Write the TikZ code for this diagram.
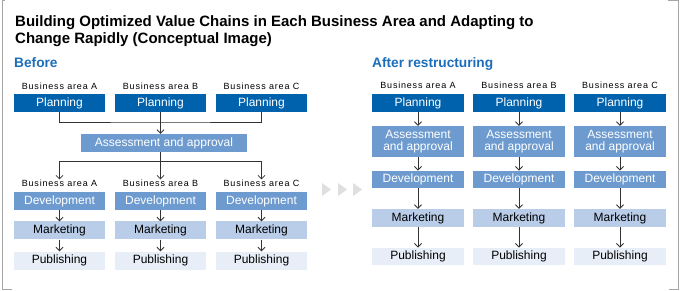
\documentclass[tikz,border=0pt]{standalone}
\usepackage{fontspec}
\setmainfont{Liberation Sans}
\newfontfamily\areafont[LetterSpace=9]{Liberation Sans}
\usetikzlibrary{arrows.meta}
\definecolor{planblue}{HTML}{0062AC}
\definecolor{midblue}{HTML}{6E9BCF}
\definecolor{lightblue}{HTML}{B9CDE9}
\definecolor{paleblue}{HTML}{E8EEF8}
\definecolor{headblue}{HTML}{1C6EBA}
\definecolor{linegray}{HTML}{333333}

\begin{document}
\begin{tikzpicture}[x=1pt, y=-1pt,
    box/.style={rectangle, minimum width=91pt, minimum height=18pt, inner sep=0pt, align=center, font=\fontsize{12}{12.4}\selectfont},
    plan/.style={box, fill=planblue, text=white},
    assess/.style={box, fill=midblue, text=white},
    dev/.style={box, fill=midblue, text=white},
    mkt/.style={box, fill=lightblue, text=black},
    pub/.style={box, fill=paleblue, text=black},
    area/.style={font=\areafont\fontsize{9}{10}\selectfont, inner sep=0pt},
    heading/.style={anchor=base west, inner sep=0pt, text=headblue, font=\bfseries\fontsize{13.7}{15}\selectfont},
    link/.style={draw=linegray, line width=0.8pt},
    arrow/.style={link, -{Straight Barb[length=3.5pt,width=7pt]}},
    frame/.style={draw=gray!70, line width=1pt}
  ]
    \useasboundingbox (0,0) rectangle (680,291);

    % Frame
    \draw[frame] (12,289) -| (2.5,1) -- (5,1);
    \draw[frame] (668,1) -| (678.5,289) -- (669,289);

    % Title and headings
    \node[anchor=north west, inner sep=0pt, align=left, font=\bfseries\fontsize{15}{17}\selectfont] (title) at (15,15)
      {Building Optimized Value Chains in Each Business Area and Adapting to\\Change Rapidly (Conceptual Image)};
    \node[heading] (before) at (14,68) {Before};
    \node[heading] (after) at (372,68) {After restructuring};

    % Before
    \foreach \c/\x in {A/59.5, B/160.5, C/261.5} {
      \node[area] (bla\c) at (\x,86) {Business area \c};
      \node[plan] (bpl\c) at (\x,103) {Planning};
      \node[area] (blb\c) at (\x,183) {Business area \c};
      \node[dev] (bdev\c) at (\x,201) {Development};
      \node[mkt] (bmkt\c) at (\x,230.5) {Marketing};
      \node[pub] (bpub\c) at (\x,260.5) {Publishing};
      \draw[arrow] (bdev\c) -- (bmkt\c);
      \draw[arrow] (bmkt\c) -- (bpub\c);
    }
    \node[assess, minimum width=166pt] (bass) at (164,143) {Assessment and approval};
    \coordinate (j1) at (160.5,122);
    \coordinate (j2) at (160.5,161);
    \draw[link] (bplA.south) |- (j1) -| (bplC.south);
    \draw[arrow] (bplB.south) -- (bass.north -| j1);
    \draw[link] (bass.south -| j2) -- (j2);
    \draw[arrow] (j2) -| (blbA.north);
    \draw[arrow] (j2) -- (blbB.north);
    \draw[arrow] (j2) -| (blbC.north);

    % Arrows between stages
    \foreach \t in {322,338,353}
      \fill[gray!25] (\t,183) -- (\t+9,189.5) -- (\t,196) -- cycle;

    % After restructuring
    \foreach \c/\x in {A/418, B/519, C/620} {
      \node[area] (ala\c) at (\x,85) {Business area \c};
      \node[plan, minimum width=92pt] (apl\c) at (\x,103) {Planning};
      \node[assess, minimum width=92pt, minimum height=31pt] (aass\c) at (\x,141.5) {Assessment\\and approval};
      \node[dev, minimum width=92pt, minimum height=17.5pt] (adev\c) at (\x,179.5) {Development};
      \node[mkt, minimum width=92pt] (amkt\c) at (\x,218) {Marketing};
      \node[pub, minimum width=92pt, minimum height=17.5pt] (apub\c) at (\x,256.5) {Publishing};
      \draw[arrow] (apl\c) -- (aass\c);
      \draw[arrow] (aass\c) -- (adev\c);
      \draw[arrow] (adev\c) -- (amkt\c);
      \draw[arrow] (amkt\c) -- (apub\c);
    }
  \end{tikzpicture}
\end{document}
